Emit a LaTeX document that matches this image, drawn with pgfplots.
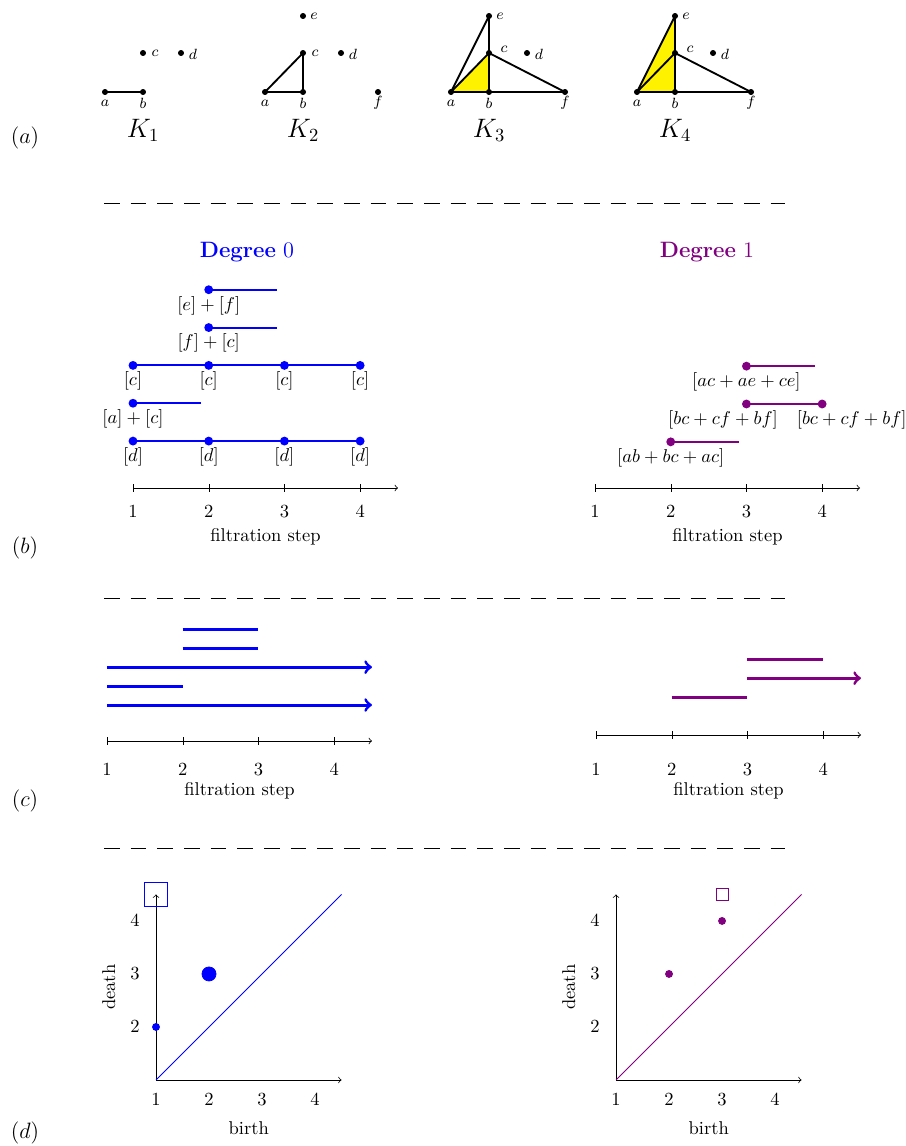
\documentclass[border=0pt]{standalone}
\usepackage{pgfplots}
\pgfplotsset{compat=1.18}
\definecolor{dpurple}{rgb}{0.5,0,0.5}

% one edge of a complex, in pixel coordinates of the frame axis
\newcommand{\edge}[4]{\addplot[black,line width=1pt] coordinates {(#1,#2) (#3,#4)};}

\pgfplotsset{
  bars/.style={
    scale only axis, clip=false,
    xmin=1, xmax=4.5, ymin=0,
    axis x line=bottom, axis y line=none,
    x axis line style={-to},
    xtick={1,2,3,4}, tick align=center, major tick length=4.3pt,
    tick style={black},
    xlabel={filtration step},
  },
  pd/.style={
    scale only axis, clip=false,
    width=100.2pt, height=100.2pt,
    xmin=1, xmax=4.5, ymin=1, ymax=4.5,
    axis lines=left, axis line style={-to},
    xtick={1,2,3,4}, ytick={2,3,4}, major tick length=0pt,
    xticklabel style={anchor=center, yshift=-10.8pt},
    yticklabel style={anchor=center, xshift=-11.3pt},
    xlabel={birth}, ylabel={death},
    xlabel style={at={(axis description cs:0.5,-0.26)}, anchor=center},
    ylabel style={at={(axis description cs:-0.255,0.5)}, anchor=center},
  },
  dot/.style={line width=1.1pt, mark=*, mark size=1.8pt},
}

\begin{document}
\begin{tikzpicture}

% frame in pixel units: panel (a), separators, titles, panel letters
\begin{axis}[name=G, at={(0,0)}, anchor=south west,
  scale only axis, width=488.7pt, height=618.84pt,
  xmin=0, xmax=905, ymin=0, ymax=1146, y dir=reverse,
  hide axis, clip=false]

% K1
\edge{105}{92}{143}{92}
\addplot[only marks, mark=*, mark size=1.4pt] coordinates {(105,92) (143,92) (143,53) (181,53)};
% K2
\edge{265}{92}{303}{92}
\edge{303}{92}{303}{53}
\edge{265}{92}{303}{53}
\addplot[only marks, mark=*, mark size=1.4pt] coordinates {(265,92) (303,92) (303,53) (341,53) (303,16) (378,92)};
% K3
\addplot[fill=yellow, draw=none] coordinates {(451,92) (489,92) (489,53)};
\edge{451}{92}{489}{92}
\edge{489}{92}{489}{53}
\edge{451}{92}{489}{53}
\edge{451}{92}{489}{16}
\edge{489}{53}{489}{16}
\edge{489}{53}{565}{92}
\edge{489}{92}{565}{92}
\addplot[only marks, mark=*, mark size=1.4pt] coordinates {(451,92) (489,92) (489,53) (527,53) (489,16) (565,92)};
% K4
\addplot[fill=yellow, draw=none] coordinates {(637,92) (675,92) (675,53)};
\addplot[fill=yellow, draw=none] coordinates {(637,92) (675,53) (675,16)};
\edge{637}{92}{675}{92}
\edge{675}{92}{675}{53}
\edge{637}{92}{675}{53}
\edge{637}{92}{675}{16}
\edge{675}{53}{675}{16}
\edge{675}{53}{751}{92}
\edge{675}{92}{751}{92}
\addplot[only marks, mark=*, mark size=1.4pt] coordinates {(637,92) (675,92) (675,53) (713,53) (675,16) (751,92)};

\begin{scope}[font=\footnotesize]
\node at (axis cs:105,103) {$a$};
\node at (axis cs:143,103) {$b$};
\node at (axis cs:155,53) {$c$};
\node at (axis cs:193,54) {$d$};
\node at (axis cs:265,103) {$a$};
\node at (axis cs:303,103) {$b$};
\node at (axis cs:315,53) {$c$};
\node at (axis cs:353,54) {$d$};
\node at (axis cs:314,16) {$e$};
\node at (axis cs:378,103) {$f$};
\node at (axis cs:451,103) {$a$};
\node at (axis cs:489,103) {$b$};
\node at (axis cs:504,49) {$c$};
\node at (axis cs:539,54) {$d$};
\node at (axis cs:500,16) {$e$};
\node at (axis cs:565,103) {$f$};
\node at (axis cs:637,103) {$a$};
\node at (axis cs:675,103) {$b$};
\node at (axis cs:690,49) {$c$};
\node at (axis cs:725,54) {$d$};
\node at (axis cs:686,16) {$e$};
\node at (axis cs:751,103) {$f$};
\end{scope}

\node at (axis cs:143,130) {\Large $K_1$};
\node at (axis cs:303,130) {\Large $K_2$};
\node at (axis cs:489,130) {\Large $K_3$};
\node at (axis cs:675,130) {\Large $K_4$};

\node at (axis cs:25,138) {\large $(a)$};
\node at (axis cs:25,548) {\large $(b)$};
\node at (axis cs:25,801) {\large $(c)$};
\node at (axis cs:25,1133) {\large $(d)$};

\addplot[black, line width=0.4pt, dash pattern=on 8.5pt off 5.9pt] coordinates {(104,203) (785,203)};
\addplot[black, line width=0.4pt, dash pattern=on 8.5pt off 5.9pt] coordinates {(104,598) (785,598)};
\addplot[black, line width=0.4pt, dash pattern=on 8.5pt off 5.9pt] coordinates {(104,848) (785,848)};

\node[blue] at (axis cs:247,252) {\large\textbf{Degree} $0$};
\node[dpurple] at (axis cs:707,252) {\large\textbf{Degree} $1$};

\coordinate (bL) at (axis cs:133,488);
\coordinate (bR) at (axis cs:595,488);
\coordinate (cL) at (axis cs:107,741);
\coordinate (cR) at (axis cs:596,735);
\coordinate (dL) at (axis cs:156,1080);
\coordinate (dR) at (axis cs:616,1080);
\path (axis cs:0,0) rectangle (axis cs:905,1146);
\end{axis}

% (b) degree 0
\begin{axis}[bars, at={(bL)}, anchor=south west,
  width=143.1pt, height=122.6pt, ymax=3,
  xticklabel style={anchor=center, yshift=-10.8pt},
  xlabel style={at={(axis description cs:0.5,-0.216)}, anchor=center}]
\addplot[blue, dot] coordinates {(1,0.62) (2,0.62) (3,0.62) (4,0.62)};
\addplot[blue, dot, mark indices={1}] coordinates {(1,1.12) (1.9,1.12)};
\addplot[blue, dot] coordinates {(1,1.62) (2,1.62) (3,1.62) (4,1.62)};
\addplot[blue, dot, mark indices={1}] coordinates {(2,2.12) (2.9,2.12)};
\addplot[blue, dot, mark indices={1}] coordinates {(2,2.62) (2.9,2.62)};
\node[below] at (axis cs:1,0.62) {$[d]$};
\node[below] at (axis cs:2,0.62) {$[d]$};
\node[below] at (axis cs:3,0.62) {$[d]$};
\node[below] at (axis cs:4,0.62) {$[d]$};
\node[below] at (axis cs:1,1.12) {$[a]+[c]$};
\node[below] at (axis cs:1,1.62) {$[c]$};
\node[below] at (axis cs:2,1.62) {$[c]$};
\node[below] at (axis cs:3,1.62) {$[c]$};
\node[below] at (axis cs:4,1.62) {$[c]$};
\node[below] at (axis cs:2,2.12) {$[f]+[c]$};
\node[below] at (axis cs:2,2.62) {$[e]+[f]$};
\end{axis}

% (b) degree 1
\begin{axis}[bars, at={(bR)}, anchor=south west,
  width=143.1pt, height=122.6pt, ymax=3,
  xticklabel style={anchor=center, yshift=-10.8pt},
  xlabel style={at={(axis description cs:0.5,-0.216)}, anchor=center}]
\addplot[dpurple, dot, mark indices={1}] coordinates {(2,0.61) (2.9,0.61)};
\addplot[dpurple, dot] coordinates {(3,1.11) (4,1.11)};
\addplot[dpurple, dot, mark indices={1}] coordinates {(3,1.61) (3.9,1.61)};
\node[below] at (axis cs:2,0.61) {$[ab+bc+ac]$};
\node[below] at (axis cs:2.69,1.11) {$[bc+cf+bf]$};
\node[below] at (axis cs:4.39,1.11) {$[bc+cf+bf]$};
\node[below] at (axis cs:3,1.61) {$[ac+ae+ce]$};
\end{axis}

% (c) barcodes
\begin{axis}[bars, at={(cL)}, anchor=south west,
  width=143.1pt, height=81.8pt, ymax=2,
  xticklabel style={anchor=center, yshift=-13.5pt},
  xlabel style={at={(axis description cs:0.5,-0.33)}, anchor=center}]
\addplot[blue, line width=1.6pt, -to] coordinates {(1,0.475) (4.5,0.475)};
\addplot[blue, line width=1.6pt] coordinates {(1,0.725) (2,0.725)};
\addplot[blue, line width=1.6pt, -to] coordinates {(1,0.975) (4.5,0.975)};
\addplot[blue, line width=1.6pt] coordinates {(2,1.225) (3,1.225)};
\addplot[blue, line width=1.6pt] coordinates {(2,1.475) (3,1.475)};
\end{axis}

\begin{axis}[bars, at={(cR)}, anchor=south west,
  width=143.1pt, height=81.8pt, ymax=2,
  xticklabel style={anchor=center, yshift=-16.7pt},
  xlabel style={at={(axis description cs:0.5,-0.369)}, anchor=center}]
\addplot[dpurple, line width=1.6pt] coordinates {(2,0.5) (3,0.5)};
\addplot[dpurple, line width=1.6pt, -to] coordinates {(3,0.75) (4.5,0.75)};
\addplot[dpurple, line width=1.6pt] coordinates {(3,1.0) (4,1.0)};
\end{axis}

% (d) persistence diagrams
\begin{axis}[pd, at={(dL)}, anchor=south west]
\addplot[blue, line width=0.4pt] coordinates {(1,1) (4.5,4.5)};
\addplot[blue, only marks, mark=*, mark size=1.9pt] coordinates {(1,2)};
\addplot[blue, only marks, mark=*, mark size=3.8pt] coordinates {(2,3)};
\addplot[blue, only marks, mark=square, mark size=6.3pt, mark options={line width=0.6pt}] coordinates {(1,4.5)};
\end{axis}

\begin{axis}[pd, at={(dR)}, anchor=south west]
\addplot[dpurple, line width=0.4pt] coordinates {(1,1) (4.5,4.5)};
\addplot[dpurple, only marks, mark=*, mark size=1.9pt] coordinates {(2,3) (3,4)};
\addplot[dpurple, only marks, mark=square, mark size=3.2pt, mark options={line width=0.5pt}] coordinates {(3,4.5)};
\end{axis}

\pgfresetboundingbox
\path[use as bounding box] (G.south west) rectangle (G.north east);
\end{tikzpicture}
\end{document}
